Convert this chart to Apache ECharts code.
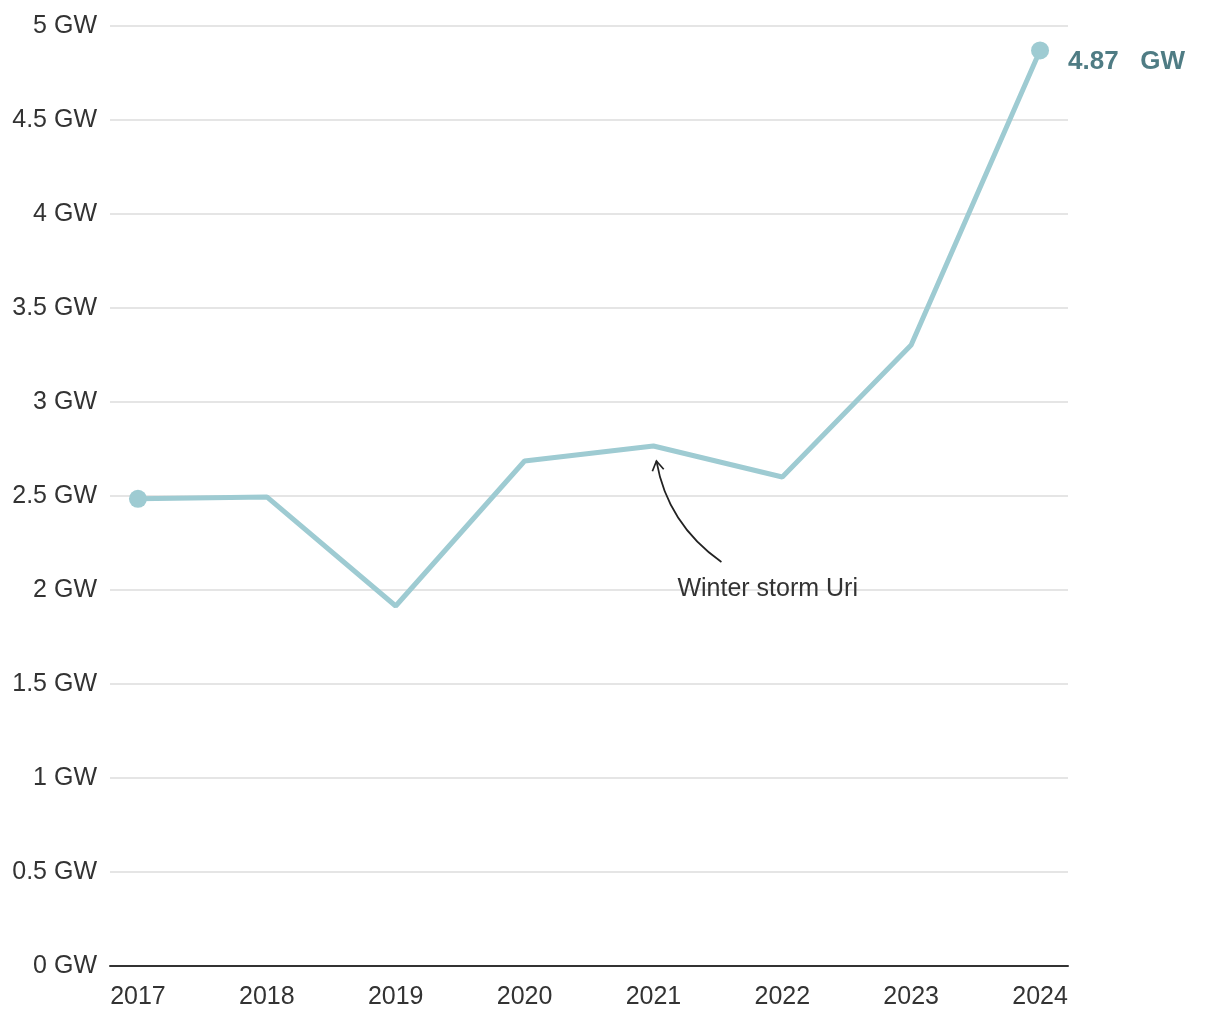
<!DOCTYPE html>
<html><head><meta charset="utf-8">
<script src="https://cdn.jsdelivr.net/npm/echarts@6/dist/echarts.min.js"></script>
<style>html,body{margin:0;padding:0;background:#fff}#c{width:1220px;height:1020px}</style>
</head><body><div id="c"></div>
<script>
const years = [2017, 2018, 2019, 2020, 2021, 2022, 2023, 2024];
const capacityGW = [2.485, 2.495, 1.915, 2.686, 2.766, 2.601, 3.303, 4.87];
const yTicks = [0, 0.5, 1, 1.5, 2, 2.5, 3, 3.5, 4, 4.5, 5];
const annotationYear = 2021;
const annotationText = 'Winter storm Uri';
const endLabel = '4.87   GW';

const FONT = '"Liberation Sans", Arial, sans-serif';
const chart = echarts.init(document.getElementById('c'), null, {renderer: 'canvas'});
const seriesData = years.map((y, i) => [y, capacityGW[i]]);
chart.setOption({
  animation: false,
  grid: {left: 110, right: 152, top: 26, bottom: 54, containLabel: false},
  xAxis: {
    type: 'value', min: 2016.783, max: 2024.217,
    axisLine: {show: true, lineStyle: {color: '#333', width: 2}},
    axisTick: {show: false},
    splitLine: {show: false},
    axisLabel: {customValues: years, color: '#333', fontFamily: FONT, fontSize: 25, margin: 19, formatter: v => String(v)}
  },
  yAxis: {
    type: 'value', min: 0, max: 5, interval: 0.5,
    axisLine: {show: false}, axisTick: {show: false},
    splitLine: {lineStyle: {color: '#dcdcdc', width: 1.5}},
    axisLabel: {customValues: yTicks, color: '#333', fontFamily: FONT, fontSize: 25, margin: 13,
      formatter: v => v + ' GW', padding: [6, 0, 0, 0]}
  },
  series: [{
    type: 'line', data: seriesData, symbol: 'none',
    lineStyle: {color: '#9ecbd2', width: 5},
    z: 3
  }, {
    type: 'scatter',
    data: [seriesData[0], seriesData[seriesData.length - 1]],
    symbolSize: 18,
    itemStyle: {color: '#9ecbd2', opacity: 1},
    label: {
      show: true, position: 'right', distance: 19,
      formatter: p => p.dataIndex === 1 ? endLabel : '',
      color: '#4f7c84', fontFamily: FONT, fontWeight: 'bold', fontSize: 26,
      offset: [0, 11], opacity: 1
    },
    z: 4
  }]
});

const idx = years.indexOf(annotationYear);
const pt = chart.convertToPixel({gridIndex: 0}, [annotationYear, capacityGW[idx]]);
const tip = [pt[0] + 3, pt[1] + 15];
const start = [pt[0] + 68, pt[1] + 116];
const ctrl = [pt[0] + 14, pt[1] + 78];
const dx = tip[0] - ctrl[0], dy = tip[1] - ctrl[1];
const ang = Math.atan2(dy, dx);
const ah = 11, spread = 0.55;
const a1 = [tip[0] - ah * Math.cos(ang - spread), tip[1] - ah * Math.sin(ang - spread)];
const a2 = [tip[0] - ah * Math.cos(ang + spread), tip[1] - ah * Math.sin(ang + spread)];
chart.setOption({
  graphic: [
    {type: 'bezierCurve', shape: {x1: start[0], y1: start[1], x2: tip[0], y2: tip[1], cpx1: ctrl[0], cpy1: ctrl[1]},
      style: {stroke: '#222', lineWidth: 1.7, fill: null}, z: 10},
    {type: 'polyline', shape: {points: [a1, tip, a2]}, style: {stroke: '#222', lineWidth: 1.7, fill: null}, z: 10},
    {type: 'text', x: pt[0] + 24, y: pt[1] + 143, style: {text: annotationText, fill: '#333', font: '25px ' + FONT, textVerticalAlign: 'middle'}, z: 10}
  ]
});
</script></body></html>
